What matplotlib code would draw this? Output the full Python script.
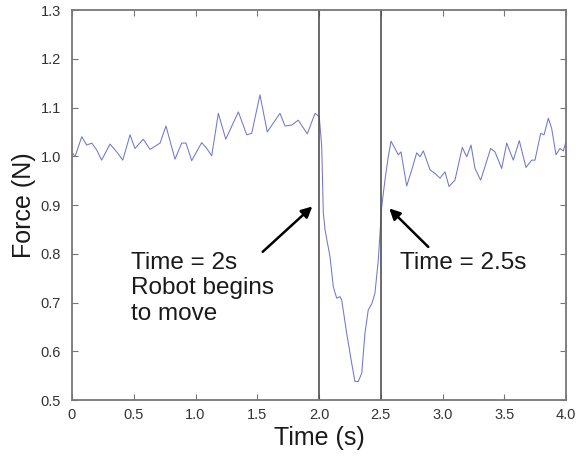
import matplotlib
matplotlib.use("Agg")
import matplotlib.pyplot as plt

plt.rcParams['font.family'] = ['Liberation Sans', 'DejaVu Sans']

time_s = [0.006, 0.024, 0.079, 0.119, 0.160, 0.200, 0.240, 0.308, 0.362, 0.411,
          0.470, 0.510, 0.577, 0.632, 0.713, 0.761, 0.834, 0.888, 0.923, 0.969,
          1.050, 1.091, 1.131, 1.185, 1.245, 1.347, 1.415, 1.455, 1.522, 1.581,
          1.684, 1.725, 1.779, 1.832, 1.905, 1.968, 2.002,
          2.022, 2.035, 2.049, 2.089, 2.116, 2.143, 2.170, 2.184, 2.224, 2.265,
          2.291, 2.318, 2.346, 2.372, 2.399, 2.427, 2.453, 2.480, 2.508, 2.534,
          2.561, 2.583, 2.615, 2.642, 2.664, 2.710, 2.751, 2.791, 2.818, 2.845,
          2.899, 2.939, 2.980, 3.020, 3.053, 3.101, 3.160, 3.196, 3.231, 3.263,
          3.309, 3.344, 3.390, 3.425, 3.479, 3.520, 3.573, 3.622, 3.676, 3.722,
          3.749, 3.795, 3.822, 3.857, 3.884, 3.919, 3.951, 3.978, 4.000]
force_n = [1.006, 0.999, 1.040, 1.023, 1.027, 1.013, 0.992, 1.025, 1.009, 0.992,
           1.044, 1.016, 1.035, 1.014, 1.027, 1.062, 0.994, 1.027, 1.027, 0.991,
           1.028, 1.016, 1.001, 1.088, 1.035, 1.091, 1.044, 1.047, 1.126, 1.050,
           1.088, 1.062, 1.064, 1.074, 1.046, 1.088, 1.081,
           1.020, 0.884, 0.849, 0.794, 0.732, 0.709, 0.712, 0.705, 0.637, 0.575,
           0.538, 0.538, 0.555, 0.637, 0.685, 0.697, 0.719, 0.787, 0.897, 0.951,
           0.999, 1.031, 1.016, 1.003, 1.009, 0.939, 0.972, 1.007, 0.999, 1.011,
           0.972, 0.965, 0.955, 0.968, 0.938, 0.951, 1.018, 0.999, 1.023, 0.975,
           0.951, 0.979, 1.016, 1.009, 0.975, 1.027, 0.992, 1.032, 0.977, 0.992,
           0.992, 1.047, 1.044, 1.078, 1.057, 1.003, 1.016, 1.011, 1.030]

event_times = [2.0, 2.5]
x_ticks = [0, 0.5, 1.0, 1.5, 2.0, 2.5, 3.0, 3.5, 4.0]
x_tick_labels = ['0', '0.5', '1.0', '1.5', '2.0', '2.5', '3.0', '3.5', '4.0']
y_ticks = [0.5, 0.6, 0.7, 0.8, 0.9, 1.0, 1.1, 1.2, 1.3]
y_tick_labels = ['0.5', '0.6', '0.7', '0.8', '0.9', '1.0', '1.1', '1.2', '1.3']

fig = plt.figure(figsize=(5.83, 4.59), dpi=100)
ax = fig.add_axes([72/583, 1 - 400/459, (566-72)/583, (400-10)/459])

ax.plot(time_s, force_n, color='#7278c8', lw=0.75, solid_joinstyle='round')
for t in event_times:
    ax.axvline(t, color='#505050', lw=1.2)

ax.set_xlim(0, 4.0)
ax.set_ylim(0.5, 1.3)
ax.set_xticks(x_ticks)
ax.set_xticklabels(x_tick_labels)
ax.set_yticks(y_ticks)
ax.set_yticklabels(y_tick_labels)
ax.tick_params(direction='in', length=4, width=0.8, colors='#777777',
               labelcolor='#333333', labelsize=10.5, top=True, right=True)
ax.tick_params(axis='x', pad=6)
ax.tick_params(axis='y', pad=8)
for s in ax.spines.values():
    s.set_color('#777777')
    s.set_linewidth(1.3)

ax.set_xlabel('Time (s)', fontsize=18, color='#1a1a1a', labelpad=3)
ax.set_ylabel('Force (N)', fontsize=18, color='#1a1a1a', labelpad=3)

ax.text(0.478, 0.804, 'Time = 2s\nRobot begins\nto move', fontsize=17.5,
        color='#1a1a1a', ha='left', va='top', linespacing=1.2)
ax.text(2.656, 0.804, 'Time = 2.5s', fontsize=17.5, color='#1a1a1a',
        ha='left', va='top')

arrow_kw = dict(arrowstyle='-|>', lw=1.8, color='black', mutation_scale=16,
                shrinkA=0, shrinkB=0)
ax.annotate('', xy=(1.946, 0.897), xytext=(1.544, 0.804), arrowprops=arrow_kw)
ax.annotate('', xy=(2.569, 0.893), xytext=(2.885, 0.814), arrowprops=arrow_kw)

fig.savefig('out.png', dpi=100)
